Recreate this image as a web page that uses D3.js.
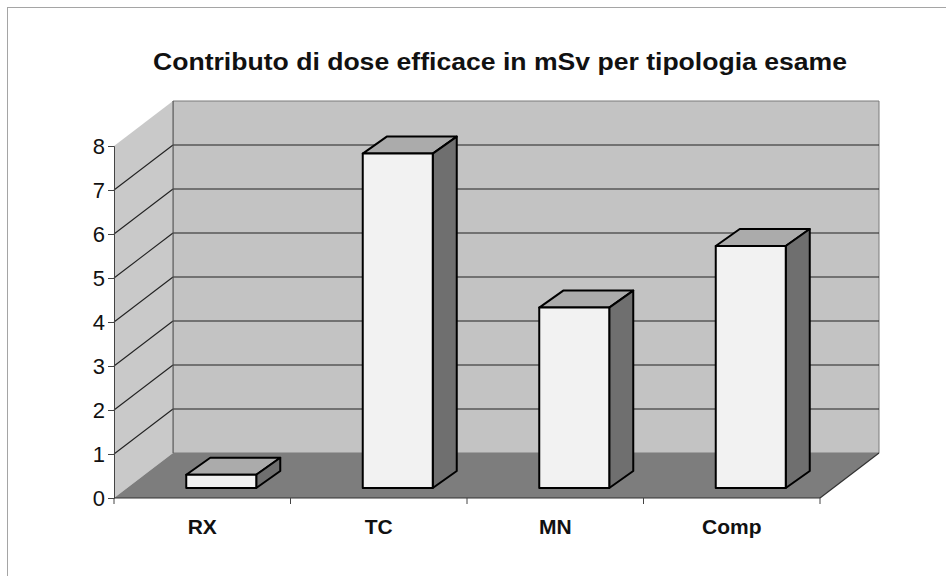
<!DOCTYPE html>
<html>
<head>
<meta charset="utf-8">
<script src="https://cdn.jsdelivr.net/npm/d3@7/dist/d3.min.js"></script>
<style>
  html, body { margin: 0; padding: 0; background: #fff; }
  svg { display: block; }
</style>
</head>
<body>
<svg id="chart" width="946" height="576"></svg>
<script>
// Effective dose contribution (mSv) by exam type
const categories = ["RX", "TC", "MN", "Comp"];
const doseValues = [0.3, 7.6, 4.1, 5.5];
const yTicks = [0, 1, 2, 3, 4, 5, 6, 7, 8];
const titleText = "Contributo di dose efficace in mSv per tipologia esame";

const svg = d3.select("#chart");

// Oblique 3D layout: front plane scales plus a depth offset for the walls
const x = d3.scaleBand().domain(categories).range([114, 820]).paddingInner(0).paddingOuter(0);
const y = d3.scaleLinear().domain([0, 8]).range([498, 146]);
const depth = { dx: 59, dy: -45 };       // full depth of the floor / side wall
const barOff = { dx: 19, dy: -10 };      // where the bar front face sits in depth
const barDepth = { dx: 24, dy: -17 };    // thickness of each column
const barWidth = 70;

const wallFill = "#c3c3c3";
const sideFill = "#c9c9c9";
const floorFill = "#7d7d7d";
const gridColor = "#222";
const font = "Liberation Sans, Arial, sans-serif";

// outer chart frame
svg.append("rect")
  .attr("x", 7.5).attr("y", 7.5).attr("width", 1000).attr("height", 1000)
  .attr("fill", "none").attr("stroke", "#a5a5a5").attr("stroke-width", 1);

// title
svg.append("text")
  .attr("x", 500).attr("y", 70)
  .attr("text-anchor", "middle")
  .attr("font-family", font)
  .attr("font-weight", "bold")
  .attr("font-size", 23)
  .attr("textLength", 694)
  .attr("lengthAdjust", "spacingAndGlyphs")
  .attr("fill", "#111")
  .text(titleText);

const [x0, x1] = x.range();
const back = v => y(v) + depth.dy;
const line = d3.line();

// back wall
svg.append("path")
  .attr("d", line([[x0 + depth.dx, back(8)], [x1 + depth.dx, back(8)], [x1 + depth.dx, back(0)], [x0 + depth.dx, back(0)]]) + "Z")
  .attr("fill", wallFill).attr("stroke", "#7a7a7a").attr("stroke-width", 1);

// side wall
svg.append("path")
  .attr("d", line([[x0, y(8)], [x0 + depth.dx, back(8)], [x0 + depth.dx, back(0)], [x0, y(0)]]) + "Z")
  .attr("fill", sideFill).attr("stroke", "none");

// floor
svg.append("path")
  .attr("d", line([[x0, y(0)], [x1, y(0)], [x1 + depth.dx, back(0)], [x0 + depth.dx, back(0)]]) + "Z")
  .attr("fill", floorFill).attr("stroke", "none");
svg.append("path")
  .attr("d", line([[x1, y(0)], [x1 + depth.dx, back(0)]]))
  .attr("stroke", "#333").attr("stroke-width", 1.2).attr("fill", "none");

// gridlines: horizontal on back wall, diagonal on side wall
const gridVals = yTicks.filter(v => v > 0 && v < 8);
svg.append("g").selectAll("path.gb").data(gridVals).join("path")
  .attr("d", v => line([[x0 + depth.dx, back(v)], [x1 + depth.dx, back(v)]]))
  .attr("stroke", gridColor).attr("stroke-width", 1.1).attr("fill", "none");
svg.append("g").selectAll("path.gs").data(gridVals).join("path")
  .attr("d", v => line([[x0, y(v)], [x0 + depth.dx, back(v)]]))
  .attr("stroke", gridColor).attr("stroke-width", 1.1).attr("fill", "none");
// back wall left edge
svg.append("path")
  .attr("d", line([[x0 + depth.dx, back(8)], [x0 + depth.dx, back(0)]]))
  .attr("stroke", "#555").attr("stroke-width", 1).attr("fill", "none");

// columns
const bars = svg.append("g").selectAll("g").data(categories.map((c, i) => ({ c, v: doseValues[i] }))).join("g");
const barBase = y(0) + barOff.dy;
const barTop = d => y(d.v) + barOff.dy;
const barLeft = d => x(d.c) + x.bandwidth() / 2 + barOff.dx - barWidth / 2;
const barRight = d => barLeft(d) + barWidth;

bars.append("path") // top face
  .attr("d", d => line([[barLeft(d), barTop(d)], [barLeft(d) + barDepth.dx, barTop(d) + barDepth.dy],
                        [barRight(d) + barDepth.dx, barTop(d) + barDepth.dy], [barRight(d), barTop(d)]]) + "Z")
  .attr("fill", "#ababab").attr("stroke", "#000").attr("stroke-width", 2).attr("stroke-linejoin", "round");
bars.append("path") // side face
  .attr("d", d => line([[barRight(d), barTop(d)], [barRight(d) + barDepth.dx, barTop(d) + barDepth.dy],
                        [barRight(d) + barDepth.dx, barBase + barDepth.dy], [barRight(d), barBase]]) + "Z")
  .attr("fill", "#6f6f6f").attr("stroke", "#000").attr("stroke-width", 2).attr("stroke-linejoin", "round");
bars.append("path") // front face
  .attr("d", d => line([[barLeft(d), barTop(d)], [barRight(d), barTop(d)], [barRight(d), barBase], [barLeft(d), barBase]]) + "Z")
  .attr("fill", "#f2f2f2").attr("stroke", "#000").attr("stroke-width", 2).attr("stroke-linejoin", "round");

// value axis
const yAxis = svg.append("g")
  .attr("transform", `translate(${x0},0)`)
  .call(d3.axisLeft(y).tickValues(yTicks).tickSize(6).tickPadding(3).tickFormat(d3.format("d")));
yAxis.select(".domain").attr("stroke", "#444");
yAxis.selectAll(".tick line").attr("stroke", "#444");
yAxis.selectAll(".tick text")
  .attr("font-family", font)
  .attr("font-size", 22).attr("fill", "#111");

// category axis: baseline, boundary ticks, centred labels
svg.append("path")
  .attr("d", line([[x0, y(0)], [x1, y(0)]]))
  .attr("stroke", "#333").attr("stroke-width", 1.2);
const bounds = categories.map(c => x(c)).concat([x1]);
svg.append("g").selectAll("line").data(bounds).join("line")
  .attr("x1", d => d).attr("x2", d => d)
  .attr("y1", y(0)).attr("y2", y(0) + 6)
  .attr("stroke", "#444");
svg.append("g").selectAll("text").data(categories).join("text")
  .attr("x", c => x(c) + x.bandwidth() / 2)
  .attr("y", 534)
  .attr("text-anchor", "middle")
  .attr("font-family", font)
  .attr("font-weight", "bold")
  .attr("font-size", 21)
  .attr("fill", "#111")
  .text(c => c);
</script>
</body>
</html>
